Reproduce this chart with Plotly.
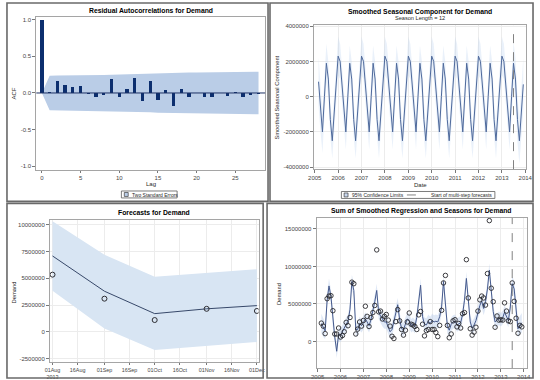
import pandas as pd
import plotly.graph_objects as go

W, H = 540, 380
MILLION = 1_000_000
FONT = "Liberation Sans, Arial, sans-serif"

# ---------------- Panel 1: residual ACF ----------------
acf_lags = list(range(29))
acf_values = [1.0, 0.02, 0.17, 0.11, 0.08, 0.09, -0.01, -0.06, -0.03, 0.19,
              -0.06, 0.05, 0.21, -0.11, 0.17, -0.10, 0.04, -0.18, 0.06, -0.05,
              0.0, -0.05, -0.06, -0.005, -0.04, 0.01, -0.05, -0.03, -0.02]
acf_two_se = [0.0, 0.235, 0.237, 0.240, 0.242, 0.243, 0.245, 0.245, 0.246, 0.247,
              0.251, 0.252, 0.254, 0.262, 0.264, 0.268, 0.270, 0.272, 0.276, 0.278,
              0.279, 0.280, 0.282, 0.284, 0.285, 0.286, 0.288, 0.289, 0.290]
acf_yticks = [-1.0, -0.5, 0.0, 0.5, 1.0]
acf_yticktext = ["-1.0", "-0.5", "0.0", "0.5", "1.0"]
acf_xticks = [0, 5, 10, 15, 20, 25]

# ---------------- monthly series (Mar 2005 - Dec 2013), in millions ----------------
series_start, series_end = "2005-03-01", "2013-12-01"

seasonal = [
    0.85, -0.7, -2.0, 0.0, 1.9, 1.0, -1.3, -2.5, -0.9, 0.8,
    2.3, 2.0, 0.8, -0.7, -2.0, 0.0, 1.9, 1.0, -1.3, -2.5, -0.9, 0.8,
    2.3, 2.0, 0.8, -0.7, -2.0, 0.0, 1.9, 1.0, -1.3, -2.5, -0.9, 0.8,
    2.3, 2.0, 0.8, -0.7, -2.0, 0.0, 1.9, 1.0, -1.3, -2.5, -0.9, 0.8,
    2.3, 2.0, 0.8, -0.7, -2.0, 0.0, 1.9, 1.0, -1.3, -2.5, -0.9, 0.8,
    2.3, 2.0, 0.8, -0.7, -2.0, 0.0, 1.9, 1.0, -1.3, -2.5, -0.9, 0.8,
    2.3, 2.0, 0.8, -0.7, -2.0, 0.0, 1.9, 1.0, -1.3, -2.5, -0.9, 0.8,
    2.3, 2.0, 0.8, -0.7, -2.0, 0.0, 1.9, 1.0, -1.3, -2.5, -0.9, 0.8,
    2.3, 2.0, 0.8, -0.7, -2.0, 0.0, 1.9, 1.0, -1.3, -2.5, -0.9, 0.7,
]
seasonal_halfwidth = [
    1.4, 1.3, 1.2, 1.1, 1.1, 1.0, 1.0, 1.0, 1.0, 1.0,
    1.1, 1.0, 1.0, 1.0, 1.0, 1.0, 1.0, 1.0, 1.0, 1.0, 1.0, 1.0,
    1.1, 1.0, 1.0, 1.0, 1.0, 1.0, 1.0, 1.0, 1.0, 1.0, 1.0, 1.0,
    1.1, 1.0, 1.0, 1.0, 1.0, 1.0, 1.0, 1.0, 1.0, 1.0, 1.0, 1.0,
    1.1, 1.0, 1.0, 1.0, 1.0, 1.0, 1.0, 1.0, 1.0, 1.0, 1.0, 1.0,
    1.1, 1.0, 1.0, 1.0, 1.0, 1.0, 1.0, 1.0, 1.0, 1.0, 1.0, 1.0,
    1.1, 1.0, 1.0, 1.0, 1.0, 1.0, 1.0, 1.0, 1.0, 1.0, 1.0, 1.0,
    1.1, 1.0, 1.0, 1.0, 1.0, 1.0, 1.0, 1.0, 1.0, 1.0, 1.0, 1.0,
    1.1, 1.0, 1.0, 1.0, 1.0, 1.1, 1.2, 1.2, 1.3, 1.3, 1.4, 1.5,
]

demand_fit = [
    2.4, 1.8, 1.4, 5.5, 7.4, 6.0, 2.8, 0.6, -1.3, 1.0,
    0.8, 1.4, 1.9, 2.3, 2.7, 4.3, 8.0, 6.8, 1.6, 1.6, 2.4, 2.1,
    2.5, 3.0, 2.6, 2.1, 2.9, 4.0, 5.3, 6.8, 3.9, 3.4, 2.9, 2.6,
    2.6, 1.9, 1.3, 1.6, 2.8, 3.9, 4.9, 2.9, 1.7, 1.6, 2.3, 3.0,
    2.8, 2.1, 2.3, 2.0, 3.2, 5.6, 7.5, 3.3, 2.3, 2.2, 2.7, 2.4,
    2.8, 2.6, 2.7, 2.6, 3.3, 4.6, 8.0, 5.0, 2.0, 1.5, 2.3, 2.6,
    2.7, 2.2, 2.3, 2.5, 3.6, 5.5, 8.4, 5.7, 2.6, 1.8, 2.2, 2.8,
    3.9, 4.8, 5.4, 4.4, 5.3, 7.0, 9.5, 7.0, 4.0, 2.6, 2.9, 3.1,
    2.9, 3.2, 3.9, 3.3, 2.8, 4.6, 7.7, 7.0, 3.8, 1.7, 2.2, 2.5,
]
demand_fit_halfwidth = [
    1.3, 1.2, 1.1, 1.0, 1.0, 0.9, 0.9, 0.9, 0.9, 0.9,
    0.9, 0.9, 0.9, 0.9, 0.9, 0.9, 0.9, 0.9, 0.9, 0.9, 0.9, 0.9,
    0.9, 0.9, 0.9, 0.9, 0.9, 0.9, 0.9, 0.9, 0.9, 0.9, 0.9, 0.9,
    0.9, 0.9, 0.9, 0.9, 0.9, 0.9, 0.9, 0.9, 0.9, 0.9, 0.9, 0.9,
    0.9, 0.9, 0.9, 0.9, 0.9, 0.9, 0.9, 0.9, 0.9, 0.9, 0.9, 0.9,
    0.9, 0.9, 0.9, 0.9, 0.9, 0.9, 0.9, 0.9, 0.9, 0.9, 0.9, 0.9,
    0.9, 0.9, 0.9, 0.9, 0.9, 0.9, 0.9, 0.9, 0.9, 0.9, 0.9, 0.9,
    0.9, 0.9, 0.9, 0.9, 0.9, 0.9, 0.9, 0.9, 0.9, 0.9, 0.9, 0.9,
    0.9, 0.9, 0.9, 0.9, 0.9, 0.9, 1.0, 1.1, 1.1, 1.2, 1.2, 1.3,
]
demand_actual = [
    2.45, 2.05, 1.05, 5.7, 6.05, 6.1, 4.1, 1.0, 1.0, 1.8,
    0.6, 0.8, 1.3, 2.55, 2.1, 3.2, 7.9, 7.7, 1.0, 1.65, 2.6, 2.05,
    2.8, 4.7, 3.35, 2.0, 3.2, 3.85, 4.8, 12.2, 3.95, 4.05, 3.0, 3.35,
    3.6, 2.85, 2.05, 0.7, 0.4, 2.65, 4.25, 2.75, 1.6, 0.85, 1.5, 2.6,
    3.8, 2.3, 2.2, 2.0, 1.6, 3.55, 4.0, 2.3, 0.75, 1.45, 1.6, 2.65,
    1.6, 1.6, 1.2, 0.65, 2.15, 4.15, 7.8, 8.8, 2.15, 0.5, 1.0, 2.75,
    2.9, 1.95, 2.4, 1.8, 3.7, 3.85, 10.9, 5.8, 1.7, 0.85, 1.25, 1.9,
    4.05, 5.55, 6.05, 5.8, 4.85, 9.05, 16.1, 7.1, 5.3, 1.9, 3.4, 2.85,
    2.9, 2.85, 5.15, 4.05, 2.75, 2.65, 7.8, 5.35, 3.1, 1.1, 2.15, 1.95,
]
forecast_start = "2013-07-01"

seasonal_yticks = [-4, -2, 0, 2, 4]
seasonal_yticktext = ["-4000000", "-2000000", "0", "2000000", "4000000"]
demand_yticks = [0, 5, 10, 15]
demand_yticktext = ["0", "5000000", "10000000", "15000000"]

# ---------------- Panel 3: forecasts ----------------
fc_dates = ["2013-08-01", "2013-09-01", "2013-10-01", "2013-11-01", "2013-12-01"]
fc_values = [7.1, 3.8, 1.7, 2.15, 2.45]
fc_actual = [5.35, 3.1, 1.1, 2.15, 1.95]
fc_upper = [10.35, 7.2, 5.15, 5.5, 5.85]
fc_lower = [3.85, 0.3, -1.7, -1.3, -0.95]
fc_xticks = ["2013-08-01", "2013-08-16", "2013-09-01", "2013-09-16", "2013-10-01",
             "2013-10-16", "2013-11-01", "2013-11-16", "2013-12-01"]
fc_xticktext = ["01Aug<br>2013", "16Aug", "01Sep", "16Sep", "01Oct",
                "16Oct", "01Nov", "16Nov", "01Dec"]
fc_yticks = [-2.5, 0, 2.5, 5, 7.5, 10]
fc_yticktext = ["-2500000", "0", "2500000", "5000000", "7500000", "10000000"]

# ---------------- helpers ----------------
def px(x):
    return x / W


def py(y):
    return 1 - y / H


def scale(values):
    return [v * MILLION for v in values]


dates = list(pd.date_range(series_start, series_end, freq="MS"))
seas_upper = [s + h for s, h in zip(seasonal, seasonal_halfwidth)]
seas_lower = [s - h for s, h in zip(seasonal, seasonal_halfwidth)]
fit_upper = [s + h for s, h in zip(demand_fit, demand_fit_halfwidth)]
fit_lower = [s - h for s, h in zip(demand_fit, demand_fit_halfwidth)]

fig = go.Figure()

# Panel 1
fig.add_trace(go.Scatter(
    x=acf_lags + acf_lags[::-1],
    y=acf_two_se + [-v for v in acf_two_se[::-1]],
    mode="lines", fill="toself", fillcolor="rgb(186,205,231)", line=dict(width=0),
    hoverinfo="skip", showlegend=False, xaxis="x", yaxis="y"))
fig.add_trace(go.Bar(
    x=acf_lags, y=acf_values, width=0.42,
    marker=dict(color="rgb(12,46,110)", line=dict(width=0)),
    showlegend=False, xaxis="x5", yaxis="y"))

# Panel 2
fig.add_trace(go.Scatter(
    x=dates + dates[::-1], y=scale(seas_upper) + scale(seas_lower[::-1]),
    mode="lines", fill="toself", fillcolor="rgba(190,210,238,0.32)", line=dict(width=0),
    hoverinfo="skip", showlegend=False, xaxis="x2", yaxis="y2"))
fig.add_trace(go.Scatter(
    x=dates, y=scale(seasonal), mode="lines",
    line=dict(color="rgb(78,105,155)", width=1),
    showlegend=False, xaxis="x2", yaxis="y2"))

# Panel 3
fc_d = pd.to_datetime(fc_dates).tolist()
fig.add_trace(go.Scatter(
    x=fc_d + fc_d[::-1], y=scale(fc_upper) + scale(fc_lower[::-1]),
    mode="lines", fill="toself", fillcolor="rgb(216,229,243)", line=dict(width=0),
    hoverinfo="skip", showlegend=False, xaxis="x3", yaxis="y3"))
fig.add_trace(go.Scatter(
    x=fc_d, y=scale(fc_values), mode="lines",
    line=dict(color="rgb(55,72,105)", width=1),
    showlegend=False, xaxis="x3", yaxis="y3"))
fig.add_trace(go.Scatter(
    x=fc_d, y=scale(fc_actual), mode="markers",
    marker=dict(symbol="circle-open", size=5, color="rgb(45,45,50)", line=dict(width=1)),
    showlegend=False, xaxis="x3", yaxis="y3"))

# Panel 4
fig.add_trace(go.Scatter(
    x=dates + dates[::-1], y=scale(fit_upper) + scale(fit_lower[::-1]),
    mode="lines", fill="toself", fillcolor="rgba(185,205,235,0.45)", line=dict(width=0),
    hoverinfo="skip", showlegend=False, xaxis="x4", yaxis="y4"))
fig.add_trace(go.Scatter(
    x=dates, y=scale(demand_fit), mode="lines",
    line=dict(color="rgb(70,90,140)", width=1),
    showlegend=False, xaxis="x4", yaxis="y4"))
fig.add_trace(go.Scatter(
    x=dates, y=scale(demand_actual), mode="markers",
    marker=dict(symbol="circle-open", size=4.5, color="rgb(40,40,45)", line=dict(width=0.9)),
    showlegend=False, xaxis="x4", yaxis="y4"))

tickfont = dict(family=FONT, size=6, color="rgb(70,70,70)")
frame = "rgb(165,165,165)"
grid = "rgb(236,236,236)"


def axis(domain, **kw):
    d = dict(domain=domain, showline=True, linecolor=frame, linewidth=1, mirror=True,
             ticks="outside", ticklen=3, tickcolor="rgb(120,120,120)", tickwidth=1,
             tickfont=tickfont, zeroline=False, showgrid=False, fixedrange=True)
    d.update(kw)
    return d


fig.update_layout(
    width=W, height=H, autosize=False,
    margin=dict(l=0, r=0, t=0, b=0),
    paper_bgcolor="white", plot_bgcolor="white",
    font=dict(family=FONT, color="rgb(40,40,40)"),
    hovermode=False,
    bargap=0,
    xaxis=axis([px(31), px(265)], anchor="y", range=[-0.72, 28.85],
               tickvals=acf_xticks, ticklen=2.5),
    xaxis5=dict(domain=[px(31), px(265)], anchor="y", overlaying="x", range=[-0.72, 28.85],
                visible=False, fixedrange=True),
    yaxis=axis([py(169), py(15)], anchor="x", range=[-1.045, 1.037],
               tickvals=acf_yticks, ticktext=acf_yticktext),
    xaxis2=axis([px(315), px(532)], anchor="y2", type="date",
                range=["2004-12-20", "2014-01-15"], tickformat="%Y", dtick="M12",
                tick0="2005-01-01", showgrid=True, gridcolor=grid, ticklen=2.5),
    yaxis2=axis([py(168.5), py(23.3)], anchor="x2", range=[-4.11 * MILLION, 4.06 * MILLION],
                tickvals=scale(seasonal_yticks), ticktext=seasonal_yticktext,
                showgrid=True, gridcolor=grid),
    xaxis3=axis([px(45), px(258.3)], anchor="y3", type="date",
                range=["2013-07-30 12:00", "2013-12-02"],
                tickvals=fc_xticks, ticktext=fc_xticktext, showgrid=True, gridcolor=grid,
                tickfont=dict(family=FONT, size=5.4, color="rgb(70,70,70)"), ticklen=2),
    yaxis3=axis([py(363), py(220)], anchor="x3", range=[-2.84 * MILLION, 10.44 * MILLION],
                tickvals=scale(fc_yticks), ticktext=fc_yticktext,
                showgrid=True, gridcolor=grid),
    xaxis4=axis([px(317.7), px(533.3)], anchor="y4", type="date",
                range=["2004-12-16", "2014-03-01"], tickformat="%Y", dtick="M12",
                tick0="2005-01-01", showgrid=True, gridcolor=grid, ticklen=2.5),
    yaxis4=axis([py(369), py(217.7)], anchor="x4", range=[-3.54 * MILLION, 16.45 * MILLION],
                tickvals=scale(demand_yticks), ticktext=demand_yticktext,
                showgrid=True, gridcolor=grid),
)

shapes = []
# panel borders
border = dict(color="rgb(105,105,105)", width=1.6)
for x0, y0, x1, y1 in [(1, 1, 268, 201), (270, 1, 539, 201), (1, 203, 263, 379), (267, 203, 539, 379)]:
    shapes.append(dict(type="rect", xref="paper", yref="paper", x0=px(x0), x1=px(x1),
                       y0=py(y1), y1=py(y0), line=border, fillcolor="rgba(0,0,0,0)", layer="above"))
# zero line on ACF
shapes.append(dict(type="line", xref="x domain", yref="y", x0=0, x1=1, y0=0, y1=0,
                   line=dict(color="rgb(30,50,100)", width=1)))
# start of multi-step forecasts
for xr, yr in [("x2", "y2 domain"), ("x4", "y4 domain")]:
    shapes.append(dict(type="line", xref=xr, yref=yr, x0=forecast_start, x1=forecast_start,
                       y0=0, y1=1, line=dict(color="rgb(130,130,130)", width=1, dash="dash")))
# legend boxes
legbox = dict(color="rgb(90,90,90)", width=0.8)
shapes.append(dict(type="rect", xref="paper", yref="paper", x0=px(118), x1=px(175),
                   y0=py(197.5), y1=py(190.5), line=legbox))
shapes.append(dict(type="rect", xref="paper", yref="paper", x0=px(121), x1=px(125),
                   y0=py(196), y1=py(192), line=dict(color="rgb(60,60,60)", width=0.7),
                   fillcolor="rgb(186,205,231)"))
shapes.append(dict(type="rect", xref="paper", yref="paper", x0=px(343), x1=px(500),
                   y0=py(198), y1=py(191), line=legbox))
shapes.append(dict(type="rect", xref="paper", yref="paper", x0=px(345.8), x1=px(349.8),
                   y0=py(196.5), y1=py(192.5), line=dict(color="rgb(60,60,60)", width=0.7),
                   fillcolor="rgb(200,215,238)"))
shapes.append(dict(type="line", xref="paper", yref="paper", x0=px(410), x1=px(426),
                   y0=py(194.5), y1=py(194.5),
                   line=dict(color="rgb(130,130,130)", width=1, dash="dash")))
fig.update_layout(shapes=shapes)

ann = []


def text(x, y, s, size=6, bold=False, angle=0, xanchor="center", color="rgb(40,40,40)"):
    ann.append(dict(x=px(x), y=py(y), xref="paper", yref="paper", showarrow=False,
                    text=f"<b>{s}</b>" if bold else s, textangle=angle,
                    xanchor=xanchor, yanchor="middle",
                    font=dict(family=FONT, size=size, color=color)))


text(148, 8.7, "Residual Autocorrelations for Demand", size=6.8, bold=True, color="black")
text(423.5, 9.6, "Smoothed Seasonal Component for Demand", size=6.8, bold=True, color="black")
text(423.5, 16, "Season Length = 12", size=5.6)
text(151.5, 211.7, "Forecasts for Demand", size=6.8, bold=True, color="black")
text(425, 210.7, "Sum of Smoothed Regression and Seasons for Demand", size=6.8, bold=True, color="black")

text(8.5, 92, "ACF", size=6, angle=-90)
text(277.5, 96, "Smoothed Seasonal Component", size=5.8, angle=-90)
text(8.5, 292.5, "Demand", size=5.8, angle=-90)
text(278.5, 294, "Demand", size=5.8, angle=-90)
text(148, 183.5, "Lag", size=6)
text(423.5, 184.5, "Date", size=6)
text(126.5, 194.2, "Two Standard Errors", size=5, xanchor="left")
text(351.5, 194.7, "95% Confidence Limits", size=5, xanchor="left")
text(432.5, 194.7, "Start of multi-step forecasts", size=5, xanchor="left")

fig.update_layout(annotations=ann)

fig.write_html(
    "out.html",
    config={"displayModeBar": False, "staticPlot": True},
    post_script="document.body.style.margin='0';document.body.style.padding='0';"
                "document.body.style.overflow='hidden';",
)
